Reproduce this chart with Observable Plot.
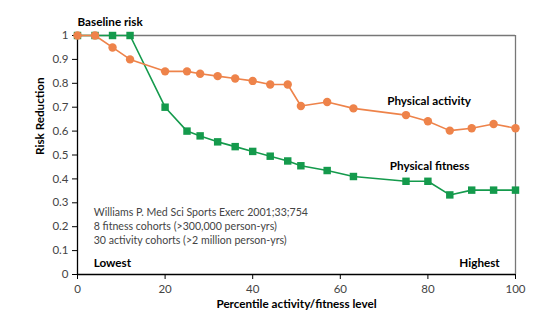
<!DOCTYPE html>
<html><head><meta charset="utf-8">
<script src="https://cdn.jsdelivr.net/npm/d3@7"></script>
<script src="https://cdn.jsdelivr.net/npm/@observablehq/plot@0.6"></script>
<style>
body{margin:0;background:#fff}
#chart svg{font-family:Lato,"Open Sans",sans-serif}
</style>
</head><body><div id="chart"></div>
<script>
const activityX = [0,4,8,12,20,25,28,32,36,40,44,48,51,57,63,75,80,85,90,95,100];
const activityY = [1,1,0.95,0.90,0.85,0.85,0.84,0.83,0.82,0.81,0.795,0.795,0.705,0.722,0.695,0.667,0.641,0.602,0.612,0.630,0.612];
const fitnessX = [0,4,8,12,20,25,28,32,36,40,44,48,51,57,63,75,80,85,90,95,100];
const fitnessY = [1,1,1,1,0.70,0.60,0.58,0.555,0.535,0.515,0.495,0.475,0.455,0.435,0.41,0.39,0.39,0.333,0.353,0.353,0.353];
const xTicks = [0,20,40,60,80,100];
const yTicks = [0,0.1,0.2,0.3,0.4,0.5,0.6,0.7,0.8,0.9,1];
const citation = ["Williams P. Med Sci Sports Exerc 2001;33;754","8 fitness cohorts (>300,000 person-yrs)","30 activity cohorts (>2 million person-yrs)"];
const citationY = [0.261,0.201,0.142];

const activity = activityX.map((x,i)=>({x, y: activityY[i]}));
const fitness = fitnessX.map((x,i)=>({x, y: fitnessY[i]}));
const ORANGE = "#ee834a", GREEN = "#149a4c";

const chart = Plot.plot({
  width: 539, height: 322,
  marginLeft: 77, marginRight: 24, marginTop: 35, marginBottom: 48,
  style: {fontSize: "11px", color: "#333", background: "#fff"},
  x: {domain: [0,100]},
  y: {domain: [0,1]},
  marks: [
    Plot.ruleY([1], {stroke: "#777", strokeWidth: 1.3}),
    Plot.ruleX([100], {stroke: "#777", strokeWidth: 1.3}),
    Plot.axisX({ticks: xTicks, tickSize: 5, tickPadding: 5, stroke: "#000", fill: "#444", fontSize: 11.5, label: null}),
    Plot.axisY({ticks: yTicks, tickSize: 5, tickPadding: 4, tickFormat: d3.format("~g"), stroke: "#000", fill: "#444", fontSize: 11.5, label: null}),
    Plot.ruleY([0], {stroke: "#000", strokeWidth: 1.3}),
    Plot.ruleX([0], {stroke: "#000", strokeWidth: 1.3}),
    Plot.line(fitness, {x: "x", y: "y", stroke: GREEN, strokeWidth: 1.6}),
    Plot.dot(fitness, {x: "x", y: "y", symbol: "square", r: 4.2, fill: GREEN, stroke: "none"}),
    Plot.line(activity, {x: "x", y: "y", stroke: ORANGE, strokeWidth: 1.6}),
    Plot.dot(activity, {x: "x", y: "y", r: 4.2, fill: ORANGE, stroke: "none"}),
    Plot.text(["Baseline risk"], {x: 0, y: 1, dy: -13, text: d=>d, textAnchor: "start", fontWeight: "bold", fontSize: 11.7, fill: "#000"}),
    Plot.text(["Physical activity"], {x: 70.7, y: 0.724, text: d=>d, textAnchor: "start", fontWeight: "bold", fontSize: 11.7, fill: "#000"}),
    Plot.text(["Physical fitness"], {x: 71.3, y: 0.452, text: d=>d, textAnchor: "start", fontWeight: "bold", fontSize: 11.7, fill: "#000"}),
    Plot.text(["Lowest"], {x: 3.7, y: 0.046, text: d=>d, textAnchor: "start", fontWeight: "bold", fontSize: 11.7, fill: "#000"}),
    Plot.text(["Highest"], {x: 96.4, y: 0.046, text: d=>d, textAnchor: "end", fontWeight: "bold", fontSize: 11.7, fill: "#000"}),
    Plot.text(citation, {x: 3.7, y: (d,i)=>citationY[i], text: d=>d, textAnchor: "start", fontSize: 10.6, fill: "#444"}),
    Plot.text(["Risk Reduction"], {frameAnchor: "left", dx: -37, rotate: -90, text: d=>d, fontWeight: "bold", fontSize: 11.7, fill: "#000"}),
    Plot.text(["Percentile activity/fitness level"], {frameAnchor: "bottom", dy: 33, text: d=>d, fontWeight: "bold", fontSize: 11.7, fill: "#000"})
  ]
});
document.getElementById("chart").append(chart);
</script>
</body></html>
